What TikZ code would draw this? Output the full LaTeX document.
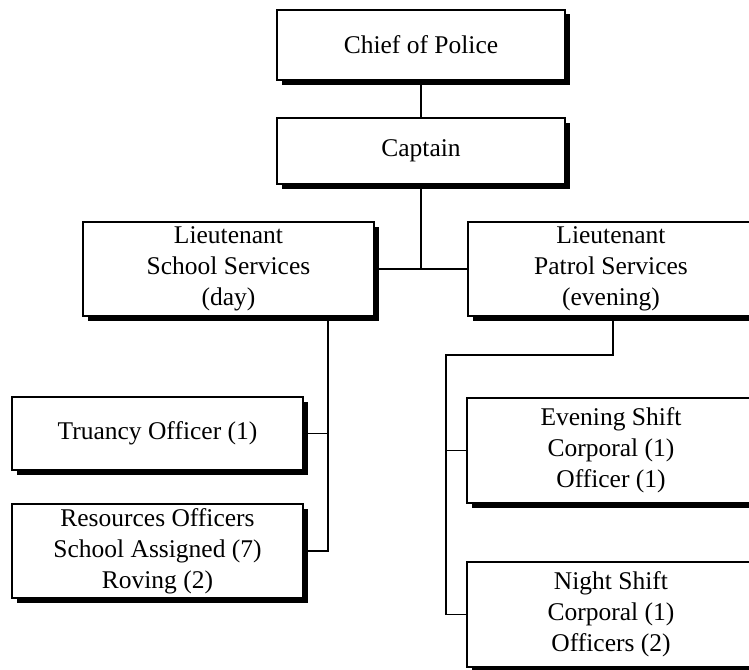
\documentclass[tikz,border=0pt]{standalone}
\usepackage{fontspec}
\setmainfont{Liberation Serif}
\usetikzlibrary{shadows}
\begin{document}
\begin{tikzpicture}[x=1pt,y=-1pt,
  orgbox/.style={draw=black, line width=1.4pt, fill=white, rectangle,
    inner sep=0pt, align=center,
    font=\fontsize{25.5}{31}\selectfont,
    drop shadow={shadow xshift=4.5pt, shadow yshift=-4.5pt, fill=black, opacity=1}},
  link/.style={draw=black, line width=1.5pt}]
\useasboundingbox (0,0) rectangle (749,669);
\clip (0,0) rectangle (749,669);
\fill[white] (0,0) rectangle (749,669);

% command chain
\node[orgbox, minimum width=288pt, minimum height=70pt] (chief) at (421,45) {Chief of Police};
\node[orgbox, minimum width=288pt, minimum height=66pt] (captain) at (421,151) {Captain};

% lieutenants
\node[orgbox, minimum width=291pt, minimum height=94pt] (school) at (228.5,269)
  {Lieutenant\\School Services\\(day)};
\node[orgbox, minimum width=286pt, minimum height=94pt] (patrol) at (611,269)
  {Lieutenant\\Patrol Services\\(evening)};

% school services units
\node[orgbox, minimum width=291pt, minimum height=73pt] (truancy) at (157.5,433.5)
  {Truancy Officer (1)};
\node[orgbox, minimum width=291pt, minimum height=94pt] (resources) at (157.5,551)
  {Resources Officers\\School Assigned (7)\\Roving (2)};

% patrol shifts
\node[orgbox, minimum width=288pt, minimum height=105pt] (evening) at (611,450.5)
  {Evening Shift\\Corporal (1)\\Officer (1)};
\node[orgbox, minimum width=288pt, minimum height=105pt] (night) at (611,614.5)
  {Night Shift\\Corporal (1)\\Officers (2)};

% junction points
\coordinate (sj) at (328,551);
\coordinate (pk) at (613,355);
\coordinate (pv) at (446,355);

% connectors
\draw[link] (chief.south) -- (captain.north);
\draw[link] (captain.south) -- (captain.south |- school.east);
\draw[link] (school.east) -- (patrol.west);
\draw[link] (school.south -| sj) -- (sj) -- (resources.east);
\draw[link] (truancy.east) -- (truancy.east -| sj);
\draw[link] (patrol.south -| pk) -- (pk) -- (pv) |- (night.west);
\draw[link] (evening.west) -- (evening.west -| pv);
\end{tikzpicture}
\end{document}
